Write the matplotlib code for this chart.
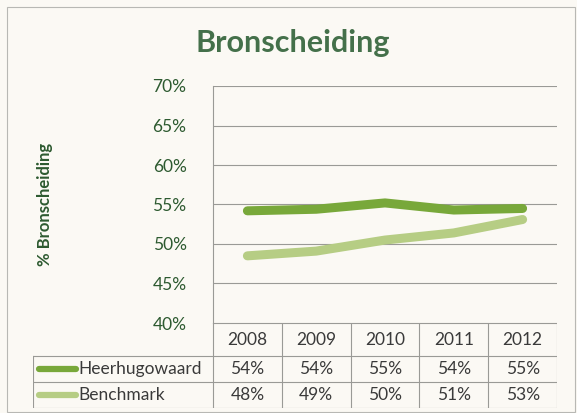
import matplotlib
matplotlib.use("Agg")
import matplotlib.pyplot as plt
from matplotlib.patches import Rectangle
from matplotlib.lines import Line2D

# data
years = ["2008", "2009", "2010", "2011", "2012"]
heerhugowaard = [54.2, 54.4, 55.2, 54.3, 54.5]
benchmark = [48.5, 49.1, 50.5, 51.4, 53.1]
heer_labels = ["54%", "54%", "55%", "54%", "55%"]
bench_labels = ["48%", "49%", "50%", "51%", "53%"]
series_names = ["Heerhugowaard", "Benchmark"]
yticks = [40, 45, 50, 55, 60, 65, 70]

W, H = 577, 413
BG = "#fbf9f4"
GREEN_DARK = "#2d5a30"
C_HEER = "#78a83a"
C_BENCH = "#b6cd84"
GRID = "#9a9a96"
TEXT = "#3a3a3a"
FS = 12.5

plt.rcParams["font.family"] = ["Lato", "DejaVu Sans"]

fig = plt.figure(figsize=(W / 100, H / 100), dpi=100)
fig.patch.set_facecolor(BG)


def fx(px):
    return px / W


def fy(py):
    return 1 - py / H


# outer chart border
fig.patches.append(Rectangle((fx(7), fy(412)), fx(575) - fx(7), fy(7) - fy(412),
                             transform=fig.transFigure, fill=False,
                             edgecolor="#b8b8b4", linewidth=0.8))

# plot area
L, R, T, B = 213, 557, 86, 323
ax = fig.add_axes([fx(L), fy(B), fx(R) - fx(L), fy(T) - fy(B)])
ax.set_facecolor("none")
x = range(len(years))
ax.plot(x, heerhugowaard, color=C_HEER, lw=6.5, solid_capstyle="round", solid_joinstyle="round", zorder=3)
ax.plot(x, benchmark, color=C_BENCH, lw=6.5, solid_capstyle="round", solid_joinstyle="round", zorder=3)
ax.set_xlim(-0.5, len(years) - 0.5)
ax.set_ylim(40, 70)
ax.set_yticks(yticks)
ax.set_yticklabels([f"{v}%" for v in yticks], color=GREEN_DARK, fontsize=FS)
ax.tick_params(axis="y", length=0, pad=19)
ax.set_xticks([])
ax.grid(axis="y", color=GRID, lw=0.8)
for s in ["top", "right", "bottom"]:
    ax.spines[s].set_visible(False)
ax.spines["left"].set_color(GRID)
ax.spines["left"].set_linewidth(0.8)

fig.text(fx(45), fy(204), "% Bronscheiding", rotation=90, ha="center", va="center",
         color=GREEN_DARK, fontsize=12, fontweight="bold")
fig.text(fx(293), fy(43), "Bronscheiding", ha="center", va="center",
         fontsize=22, fontweight="bold", color="#44704a")

# data table below the plot
tab = fig.add_axes([fx(33), fy(408), fx(R) - fx(33), fy(323) - fy(408)])
tab.set_axis_off()
tab.set_xlim(33, R)
tab.set_ylim(408, 323)
col_w = (R - L) / len(years)
rows_y = [323, 356, 382, 408]
lk = dict(color=GRID, lw=0.8)
tab.add_line(Line2D([L, R], [rows_y[0]] * 2, **lk))
for yy in rows_y[1:]:
    tab.add_line(Line2D([33, R], [yy, yy], **lk))
tab.add_line(Line2D([33, 33], [rows_y[1], rows_y[3]], **lk))
for i in range(len(years) + 1):
    xx = L + i * col_w
    tab.add_line(Line2D([xx, xx], [rows_y[0], rows_y[3]], **lk))

for i, yr in enumerate(years):
    cx = L + (i + 0.5) * col_w
    tab.text(cx, (rows_y[0] + rows_y[1]) / 2 + 1, yr, ha="center", va="center", fontsize=FS, color=TEXT)
    tab.text(cx, (rows_y[1] + rows_y[2]) / 2, heer_labels[i], ha="center", va="center", fontsize=FS, color=TEXT)
    tab.text(cx, (rows_y[2] + rows_y[3]) / 2, bench_labels[i], ha="center", va="center", fontsize=FS, color=TEXT)

for r, (name, col) in enumerate(zip(series_names, [C_HEER, C_BENCH])):
    cy = (rows_y[r + 1] + rows_y[r + 2]) / 2
    tab.add_line(Line2D([39, 76], [cy, cy], color=col, lw=4.5, solid_capstyle="round"))
    tab.text(78, cy, name, ha="left", va="center", fontsize=FS, color=TEXT)

fig.savefig("out.png", dpi=100, facecolor=BG)
